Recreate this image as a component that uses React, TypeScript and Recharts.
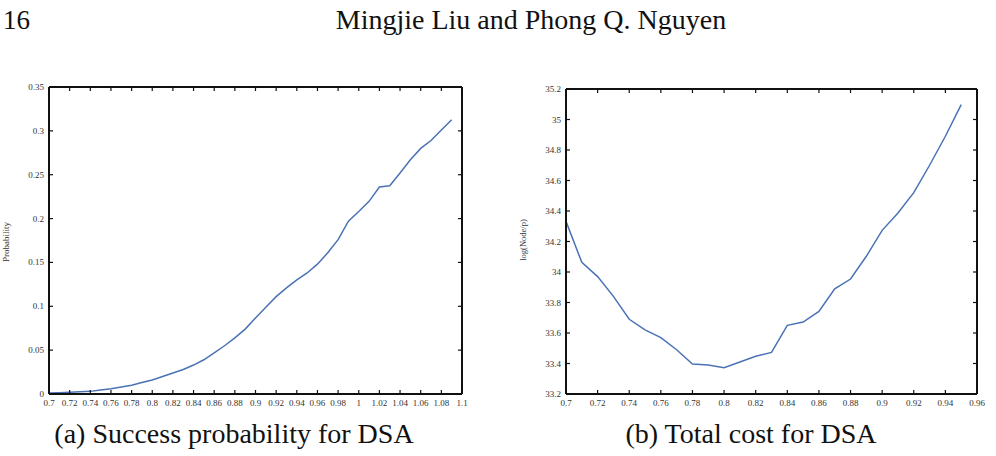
import React from 'react';
import { LineChart, Line, XAxis, YAxis } from 'recharts';

// ---- (a) Success probability for DSA ----
const probX = [0.7, 0.71, 0.72, 0.73, 0.74, 0.75, 0.76, 0.77, 0.78, 0.79, 0.8, 0.81, 0.82, 0.83, 0.84, 0.85, 0.86, 0.87, 0.88, 0.89, 0.9, 0.91, 0.92, 0.93, 0.94, 0.95, 0.96, 0.97, 0.98, 0.99, 1.0, 1.01, 1.02, 1.03, 1.04, 1.05, 1.06, 1.07, 1.08, 1.09];
const probY = [0.001, 0.0015, 0.002, 0.0025, 0.003, 0.0045, 0.006, 0.008, 0.01, 0.013, 0.016, 0.02, 0.024, 0.028, 0.033, 0.039, 0.047, 0.055, 0.064, 0.074, 0.0866, 0.0988, 0.111, 0.121, 0.13, 0.138, 0.148, 0.161, 0.176, 0.197, 0.208, 0.2196, 0.236, 0.2375, 0.252, 0.267, 0.28, 0.289, 0.301, 0.3127];
const probXTicks = [0.7, 0.72, 0.74, 0.76, 0.78, 0.8, 0.82, 0.84, 0.86, 0.88, 0.9, 0.92, 0.94, 0.96, 0.98, 1, 1.02, 1.04, 1.06, 1.08, 1.1];
const probYTicks = [0, 0.05, 0.1, 0.15, 0.2, 0.25, 0.3, 0.35];

// ---- (b) Total cost for DSA ----
const costX = [0.7, 0.71, 0.72, 0.73, 0.74, 0.75, 0.76, 0.77, 0.78, 0.79, 0.8, 0.81, 0.82, 0.83, 0.84, 0.85, 0.86, 0.87, 0.88, 0.89, 0.9, 0.91, 0.92, 0.93, 0.94, 0.95];
const costY = [34.332, 34.063, 33.97, 33.84, 33.69, 33.62, 33.57, 33.49, 33.397, 33.39, 33.373, 33.41, 33.447, 33.473, 33.65, 33.672, 33.742, 33.89, 33.954, 34.103, 34.273, 34.387, 34.52, 34.7, 34.89, 35.097];
const costXTicks = [0.7, 0.72, 0.74, 0.76, 0.78, 0.8, 0.82, 0.84, 0.86, 0.88, 0.9, 0.92, 0.94, 0.96];
const costYTicks = [33.2, 33.4, 33.6, 33.8, 34, 34.2, 34.4, 34.6, 34.8, 35, 35.2];

const probData = probX.map((x, i) => ({ x, y: probY[i] }));
const costData = costX.map((x, i) => ({ x, y: costY[i] }));

const SERIF = 'Liberation Serif';
const LINE_COLOR = '#4a72b4';
const TICK_LEN = 4;
const TICK_FONT = 9;
const AXIS_LINE = { stroke: '#111', strokeWidth: 2 };

const BottomTick = (props: any) => {
  const { x, y, payload } = props;
  return (
    <g>
      <line x1={x} y1={y} x2={x} y2={y - TICK_LEN} stroke="#111" strokeWidth={1.2} />
      <text x={x} y={y + 12} textAnchor="middle" style={{ fontFamily: SERIF }} fontSize={TICK_FONT} fill="#333">
        {String(payload.value)}
      </text>
    </g>
  );
};
const TopTick = (props: any) => {
  const { x, y } = props;
  return <line x1={x} y1={y} x2={x} y2={y + TICK_LEN} stroke="#111" strokeWidth={1.2} />;
};
const LeftTick = (props: any) => {
  const { x, y, payload } = props;
  return (
    <g>
      <line x1={x} y1={y} x2={x + TICK_LEN} y2={y} stroke="#111" strokeWidth={1.2} />
      <text x={x - 5} y={y + 3} textAnchor="end" style={{ fontFamily: SERIF }} fontSize={TICK_FONT} fill="#333">
        {String(payload.value)}
      </text>
    </g>
  );
};
const RightTick = (props: any) => {
  const { x, y } = props;
  return <line x1={x} y1={y} x2={x - TICK_LEN} y2={y} stroke="#111" strokeWidth={1.2} />;
};

type PanelProps = {
  data: { x: number; y: number }[];
  xDomain: [number, number];
  yDomain: [number, number];
  xTicks: number[];
  yTicks: number[];
  width: number;
  height: number;
  margin: { top: number; right: number; bottom: number; left: number };
  yAxisWidth: number;
};

const Panel = ({ data, xDomain, yDomain, xTicks, yTicks, width, height, margin, yAxisWidth }: PanelProps) => (
  <LineChart width={width} height={height} data={data} margin={margin}>
    <XAxis xAxisId="b" dataKey="x" type="number" orientation="bottom" domain={xDomain} ticks={xTicks} interval={0}
      height={20} tickSize={0} tickMargin={0} tickLine={false} axisLine={AXIS_LINE} tick={<BottomTick />} allowDataOverflow />
    <XAxis xAxisId="t" dataKey="x" type="number" orientation="top" domain={xDomain} ticks={xTicks} interval={0}
      height={1} tickSize={0} tickMargin={0} tickLine={false} axisLine={AXIS_LINE} tick={<TopTick />} allowDataOverflow />
    <YAxis yAxisId="l" type="number" orientation="left" domain={yDomain} ticks={yTicks} interval={0}
      width={yAxisWidth} tickSize={0} tickMargin={0} tickLine={false} axisLine={AXIS_LINE} tick={<LeftTick />} allowDataOverflow />
    <YAxis yAxisId="r" type="number" orientation="right" domain={yDomain} ticks={yTicks} interval={0}
      width={1} tickSize={0} tickMargin={0} tickLine={false} axisLine={AXIS_LINE} tick={<RightTick />} allowDataOverflow />
    <Line xAxisId="b" yAxisId="l" type="linear" dataKey="y" stroke={LINE_COLOR} strokeWidth={1.5}
      dot={false} activeDot={false} isAnimationActive={false} />
    <Line xAxisId="t" yAxisId="r" type="linear" dataKey="y" stroke="none"
      dot={false} activeDot={false} legendType="none" isAnimationActive={false} />
  </LineChart>
);

export default function App() {
  return (
    <div style={{ position: 'absolute', left: 0, top: 0, width: 996, height: 456, background: '#fff', overflow: 'hidden', fontFamily: SERIF }}>
      <div style={{ position: 'absolute', left: 0, top: 70 }}>
        <Panel data={probData} xDomain={[0.7, 1.1]} yDomain={[0, 0.35]} xTicks={probXTicks} yTicks={probYTicks}
          width={480} height={350} margin={{ top: 16, right: 17, bottom: 6, left: 19 }} yAxisWidth={30} />
      </div>
      <div style={{ position: 'absolute', left: 500, top: 70 }}>
        <Panel data={costData} xDomain={[0.7, 0.96]} yDomain={[33.2, 35.2]} xTicks={costXTicks} yTicks={costYTicks}
          width={496} height={350} margin={{ top: 18, right: 18, bottom: 6, left: 30 }} yAxisWidth={36} />
      </div>
      <svg width={996} height={456} style={{ position: 'absolute', left: 0, top: 0, pointerEvents: 'none', fontFamily: SERIF }}>
        <text x={3} y={29} fontSize={27} fill="#111">16</text>
        <text x={531} y={29} textAnchor="middle" fontSize={28} fill="#111">Mingjie Liu and Phong Q. Nguyen</text>
        <text x={234} y={443} textAnchor="middle" fontSize={28} fill="#111">(a) Success probability for DSA</text>
        <text x={751} y={443} textAnchor="middle" fontSize={28} fill="#111">(b) Total cost for DSA</text>
        <text transform="translate(9,242) rotate(-90)" textAnchor="middle" fontSize={9} fill="#333">Probability</text>
        <text transform="translate(526,240) rotate(-90)" textAnchor="middle" fontSize={8.5} fill="#333">log(Node/p)</text>
      </svg>
    </div>
  );
}
